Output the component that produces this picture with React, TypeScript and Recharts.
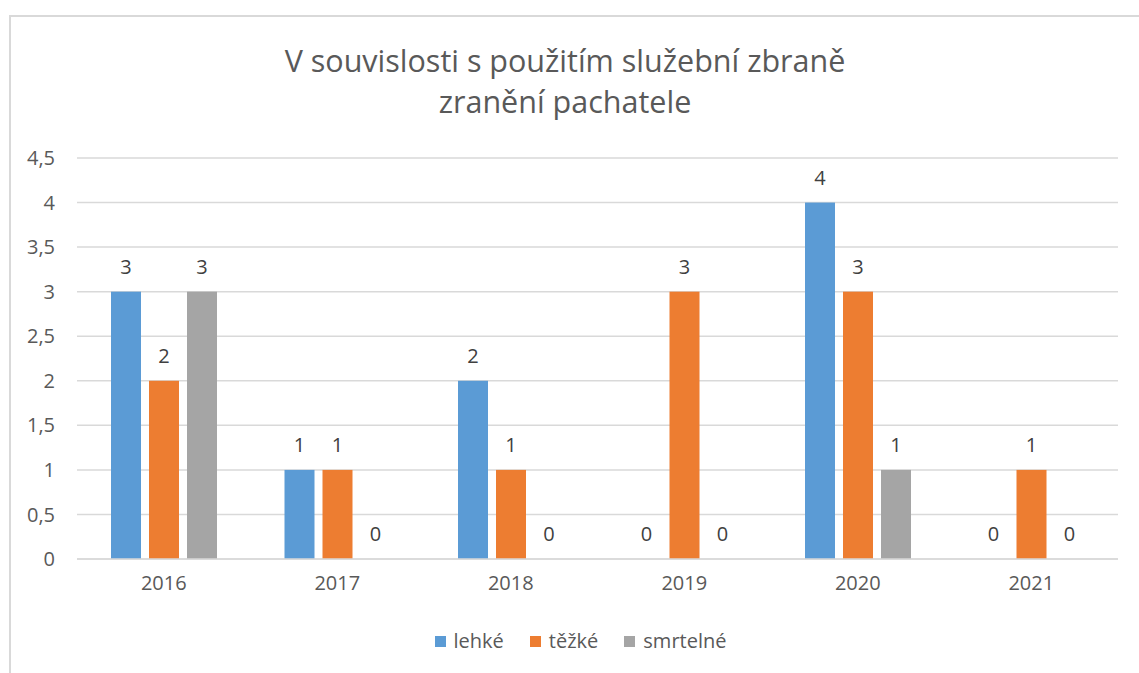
import { BarChart, Bar, XAxis, YAxis, CartesianGrid } from 'recharts';

const years = ['2016', '2017', '2018', '2019', '2020', '2021'];
const lehke = [3, 1, 2, 0, 4, 0];
const tezke = [2, 1, 1, 3, 3, 1];
const smrtelne = [3, 0, 0, 0, 1, 0];
const yTicks = [0, 0.5, 1, 1.5, 2, 2.5, 3, 3.5, 4, 4.5];

const data = years.map((year, i) => ({
  year,
  lehke: lehke[i],
  tezke: tezke[i],
  smrtelne: smrtelne[i],
}));

const series = [
  { key: 'lehke', name: 'lehké', color: '#5B9BD5' },
  { key: 'tezke', name: 'těžké', color: '#ED7D31' },
  { key: 'smrtelne', name: 'smrtelné', color: '#A5A5A5' },
];

const FONT = '"Open Sans", sans-serif';
const TEXT = '#595959';

// bar + value label drawn together so zero values still get their "0"
const makeShape = (key: string, color: string) => (props: any) => {
  const { x, y, width, height, payload } = props;
  const value = payload ? payload[key] : props.value;
  const cx = Number(x) + Number(width) / 2;
  const h = Number(height) || 0;
  return (
    <g>
      {h > 0 && <rect x={x} y={y} width={width} height={h} fill={color} />}
      <text x={cx} y={Number(y) - 18} textAnchor="middle" fill="#404040" fontSize={20} fontFamily={FONT}>
        {String(value)}
      </text>
    </g>
  );
};

export default function App() {
  return (
    <div style={{ position: 'absolute', left: 0, top: 0, width: 1139, height: 673, background: '#fff', overflow: 'hidden' }}>
      <div
        style={{
          position: 'absolute',
          left: 9,
          top: 15,
          width: 1200,
          height: 700,
          borderLeft: '2px solid #d9d9d9',
          borderTop: '2px solid #d9d9d9',
        }}
      />
      <div
        style={{
          position: 'absolute',
          left: 0,
          top: 40,
          width: 1130,
          textAlign: 'center',
          fontFamily: FONT,
          fontSize: 30.5,
          lineHeight: '41px',
          color: TEXT,
        }}
      >
        V souvislosti s použitím služební zbraně
        <br />
        zranění pachatele
      </div>
      <div style={{ position: 'absolute', left: 0, top: 0 }}>
        <BarChart
          width={1139}
          height={673}
          data={data}
          barSize={30}
          barGap={8}
          margin={{ top: 158, right: 21, left: 17, bottom: 84 }}
        >
          <CartesianGrid vertical={false} stroke="#d9d9d9" strokeWidth={1.5} />
          <XAxis
            dataKey="year"
            axisLine={{ stroke: '#d9d9d9', strokeWidth: 1.5 }}
            tickLine={false}
            tickSize={0}
            tickMargin={17}
            tick={{ fill: TEXT, fontSize: 20, fontFamily: FONT }}
            height={30}
          />
          <YAxis
            domain={[0, 4.5]}
            ticks={yTicks}
            interval={0}
            width={60}
            axisLine={false}
            tickLine={false}
            tickSize={0}
            tickMargin={22}
            tickFormatter={(v: number) => String(v).replace('.', ',')}
            tick={{ fill: TEXT, fontSize: 20, fontFamily: FONT }}
          />
          {series.map((s) => (
            <Bar
              key={s.key}
              dataKey={s.key}
              name={s.name}
              fill={s.color}
              shape={makeShape(s.key, s.color)}
              isAnimationActive={false}
            />
          ))}
        </BarChart>
      </div>
      <div
        style={{
          position: 'absolute',
          left: 0,
          top: 627,
          width: 1161,
          display: 'flex',
          justifyContent: 'center',
          fontFamily: FONT,
          fontSize: 20,
          color: TEXT,
          lineHeight: '28px',
        }}
      >
        {series.map((s) => (
          <div key={s.key} style={{ display: 'flex', alignItems: 'center', margin: '0 13px' }}>
            <span style={{ display: 'inline-block', width: 11, height: 11, background: s.color, marginRight: 8 }} />
            {s.name}
          </div>
        ))}
      </div>
    </div>
  );
}
